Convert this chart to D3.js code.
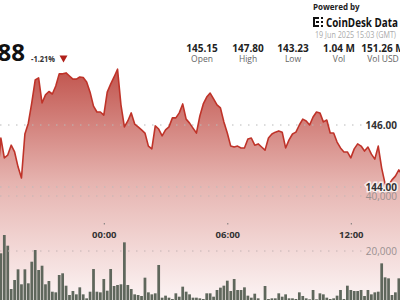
<!DOCTYPE html>
<html>
<head>
<meta charset="utf-8">
<script src="https://cdn.jsdelivr.net/npm/d3@7"></script>
<style>
  html, body { margin: 0; padding: 0; background: #fff; }
  svg { display: block; font-family: "Open Sans", "Noto Sans", sans-serif; }
</style>
</head>
<body>
<div id="chart"></div>
<script>
// ---------- data ----------
const startTime = "2025-06-18T18:50:00Z";   // first 10-minute sample
const stepMinutes = 10;

const prices = [
  144.29,145.58,144.94,145.03,145.35,145.13,144.65,144.29,145.71,146.06,
  146.71,147.45,147.52,146.71,146.97,147.08,147.00,147.26,147.65,147.65,
  147.68,147.58,147.48,147.48,147.55,147.53,147.39,147.06,146.61,146.42,
  146.42,146.32,147.06,147.32,147.55,147.80,146.65,145.94,146.13,146.39,
  146.03,145.94,145.84,145.74,145.32,145.23,145.97,145.87,145.65,145.84,
  145.94,146.23,146.23,146.39,146.68,146.19,146.06,145.90,145.74,146.29,
  146.68,146.90,147.03,146.84,146.65,146.55,146.10,145.74,145.32,145.29,
  145.32,145.26,145.26,145.55,145.58,145.35,145.39,145.29,145.19,145.58,
  145.71,145.77,145.81,145.77,145.26,145.52,145.71,145.77,146.00,146.19,
  146.13,146.00,146.26,146.42,146.39,146.10,146.16,145.74,145.74,145.45,
  145.26,145.13,145.13,144.94,145.23,145.39,145.32,145.16,145.29,145.06,
  144.90,145.32,144.61,144.10,144.06,144.23,144.35,144.55,144.39
];

// volumes start at the second sample
const volumeOffset = 1;
const volumes = [
  19160,25815,21930,6180,9450,13340,7890,13340,8250,16110,
  20360,13090,14650,7890,9090,5200,4970,11270,11890,7380,
  4000,5450,4240,6790,4240,2790,5200,13450,5200,4970,
  9820,5570,13450,7270,7640,7890,23150,7640,6180,4240,
  4000,3640,10300,4970,4240,4610,14910,3030,3760,3030,
  2550,4610,3390,7030,5210,4240,3030,3030,2790,2550,
  4610,4610,3390,5820,6670,7390,9210,5450,9820,5820,
  5820,6790,3760,3030,4480,2790,2180,7270,
  2550,2790,2790,4610,3390,4240,2790,2790,2550,4970,
  3640,2790,2430,5820,2430,4610,4240,3030,2550,2790,
  3760,5820,2550,7390,5820,5450,5450,5820,3640,5820,
  4240,4970,5210,15510,10420,10060,4000,4970,10060
];

const priceTicks = [144, 146];
const volumeTicks = [20000, 40000];
const timeTicks = ["2025-06-19T00:00:00Z", "2025-06-19T06:00:00Z", "2025-06-19T12:00:00Z"];

const lastPriceText = "143.88";
const changeText = "-1.21%";
const statValues = ["145.15", "147.80", "143.23", "1.04 M", "151.26 M"];
const statLabels = ["Open", "High", "Low", "Vol", "Vol USD"];
const statCenters = [202, 248, 293, 339, 383];
const poweredBy = "Powered by";
const brandText = "CoinDesk Data";
const stampText = "19 Jun 2025 15:03 (GMT)";

// ---------- setup ----------
const W = 400, H = 300;
const svg = d3.select("#chart").append("svg").attr("width", W).attr("height", H);

const t0 = new Date(startTime);
const timeAt = i => new Date(t0.getTime() + i * stepMinutes * 60000);
const priceData = prices.map((p, i) => ({ t: timeAt(i), v: p }));
const volData = volumes.map((v, i) => ({ t: timeAt(i + volumeOffset), v }));

const x = d3.scaleUtc()
  .domain([new Date(timeTicks[0]), new Date(timeTicks[2])])
  .range([103.8, 350.8]);
const y = d3.scaleLinear().domain([144, 146]).range([187, 125]);
const yv = d3.scaleLinear().domain([0, 40000]).range([306, 196]);

const stepPx = x(timeAt(1)) - x(timeAt(0));

// gradient
const defs = svg.append("defs");
const grad = defs.append("linearGradient")
  .attr("id", "areaGrad").attr("gradientUnits", "userSpaceOnUse")
  .attr("x1", 0).attr("x2", 0).attr("y1", 66).attr("y2", 300);
grad.append("stop").attr("offset", "0").attr("stop-color", "#c0524b");
grad.append("stop").attr("offset", "0.5").attr("stop-color", "#e6b4b0");
grad.append("stop").attr("offset", "1").attr("stop-color", "#fcf4f4");

// area
const area = d3.area().x(d => x(d.t)).y0(H).y1(d => y(d.v)).curve(d3.curveLinear);
svg.append("path").datum(priceData).attr("d", area).attr("fill", "url(#areaGrad)");

// volume bars
const barW = stepPx * 0.8;
svg.append("g").selectAll("rect").data(volData).join("rect")
  .attr("x", d => x(d.t) - barW / 2)
  .attr("width", barW)
  .attr("y", d => yv(d.v))
  .attr("height", d => yv(0) - yv(d.v))
  .attr("fill", "#5f675c");

// dotted gridlines
const gridG = svg.append("g");
priceTicks.forEach(v => {
  gridG.append("line").attr("x1", 0).attr("x2", 366).attr("y1", y(v)).attr("y2", y(v))
    .attr("stroke", "#b9b9b9").attr("stroke-dasharray", "1.5,6.5");
});
volumeTicks.forEach(v => {
  gridG.append("line").attr("x1", 0).attr("x2", 366).attr("y1", yv(v)).attr("y2", yv(v))
    .attr("stroke", "#c4b4b4").attr("stroke-dasharray", "1.5,6.5");
});

// price line
const line = d3.line().x(d => x(d.t)).y(d => y(d.v));
svg.append("path").datum(priceData).attr("d", line)
  .attr("fill", "none").attr("stroke", "#bf3329").attr("stroke-width", 1.6)
  .attr("stroke-linejoin", "round");

// price axis (right)
const pAxis = svg.append("g").attr("transform", "translate(397,0)")
  .call(d3.axisRight(y).tickValues(priceTicks).tickFormat(d3.format(".2f")).tickSize(0));
pAxis.select(".domain").remove();
pAxis.selectAll(".tick text")
  .attr("x", 0).attr("dy", "0.3em").attr("text-anchor", "end")
  .attr("font-family", "'Open Sans', sans-serif")
  .attr("font-size", 10).attr("font-weight", 700).attr("fill", "#333")
  .attr("stroke", "rgba(255,255,255,0.75)").attr("stroke-width", 3).attr("paint-order", "stroke");

// volume axis (right)
const vAxis = svg.append("g").attr("transform", "translate(397,0)")
  .call(d3.axisRight(yv).tickValues(volumeTicks).tickFormat(d3.format(",")).tickSize(0));
vAxis.select(".domain").remove();
vAxis.selectAll(".tick text")
  .attr("x", 0).attr("dy", "0.35em").attr("text-anchor", "end")
  .attr("font-family", "'Open Sans', sans-serif")
  .attr("font-size", 10).attr("fill", "#9a9090");

// time axis
const tAxis = svg.append("g").attr("transform", "translate(0,223)")
  .call(d3.axisBottom(x).tickValues(timeTicks.map(s => new Date(s)))
    .tickFormat(d3.utcFormat("%H:%M")).tickSize(1.5).tickPadding(7));
tAxis.select(".domain").remove();
tAxis.selectAll(".tick line").attr("stroke", "#777");
tAxis.selectAll(".tick text")
  .attr("font-family", "'Open Sans', sans-serif")
  .attr("font-size", 9.5).attr("font-weight", 700).attr("fill", "#333");

// ---------- header ----------
svg.append("text").attr("x", 25).attr("y", 61).attr("text-anchor", "end")
  .attr("font-size", 24).attr("font-weight", 700).attr("fill", "#111")
  .text(lastPriceText);
svg.append("text").attr("x", 31).attr("y", 62)
  .attr("font-size", 9).attr("font-weight", 700).attr("fill", "#333")
  .attr("textLength", 24).attr("lengthAdjust", "spacingAndGlyphs")
  .text(changeText);
svg.append("path").attr("d", "M59.5,55.5 L67.5,55.5 L63.5,62.5 Z").attr("fill", "#b0201a");

const statsG = svg.append("g");
statValues.forEach((v, i) => {
  statsG.append("text").attr("x", statCenters[i]).attr("y", 51.5).attr("text-anchor", "middle")
    .attr("font-size", 10).attr("font-weight", 700).attr("fill", "#222").text(v);
  statsG.append("text").attr("x", statCenters[i]).attr("y", 62).attr("text-anchor", "middle")
    .attr("font-size", 8.5).attr("fill", "#666").text(statLabels[i]);
});

svg.append("text").attr("x", 313).attr("y", 10)
  .attr("font-size", 8).attr("font-weight", 700).attr("fill", "#222").text(poweredBy);
// logo mark
const logo = svg.append("g").attr("fill", "#111");
[[313,17,2,10],[313,17,6,2],[313,25,6,2],[316,21,3,2],[321,17,2,2],[321,21,2,2],[321,25,2,2]]
  .forEach(r => logo.append("rect").attr("x", r[0]).attr("y", r[1]).attr("width", r[2]).attr("height", r[3]));
svg.append("text").attr("x", 326).attr("y", 27)
  .attr("font-size", 12.5).attr("font-weight", 700).attr("fill", "#111")
  .attr("textLength", 72).attr("lengthAdjust", "spacingAndGlyphs").text(brandText);
svg.append("text").attr("x", 315).attr("y", 38)
  .attr("font-size", 8.5).attr("fill", "#aaa")
  .attr("textLength", 81).attr("lengthAdjust", "spacingAndGlyphs").text(stampText);
</script>
</body>
</html>
